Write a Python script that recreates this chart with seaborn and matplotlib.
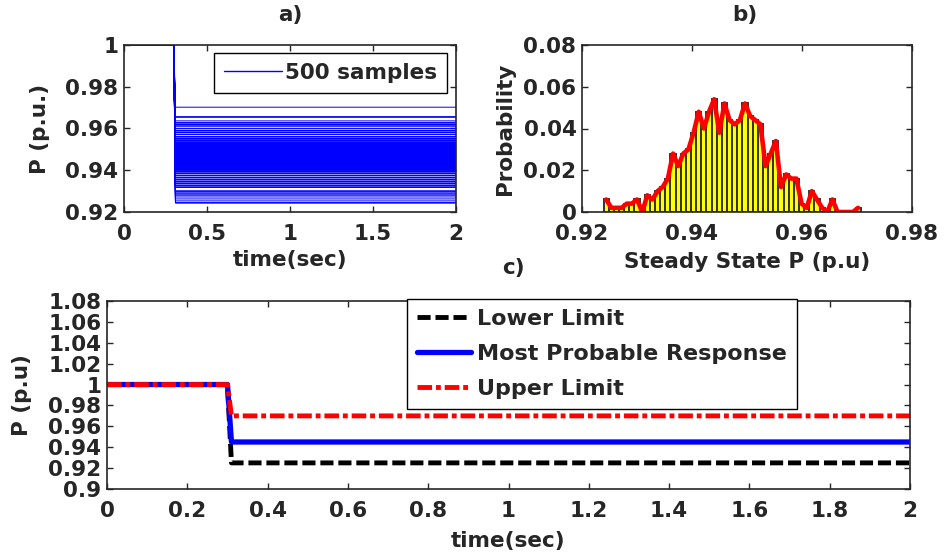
import numpy as np
import pandas as pd
import matplotlib
matplotlib.use("Agg")
import matplotlib.pyplot as plt
import seaborn as sns
from matplotlib.lines import Line2D

# ---------------- data ----------------
# histogram of steady-state P (probability per bin)
bin_lo, bin_hi = 0.9244, 0.9702
probs = [0.006, 0.002, 0.002, 0.002, 0.004, 0.004, 0.006, 0.000, 0.008, 0.006,
         0.010, 0.012, 0.016, 0.028, 0.022, 0.028, 0.030, 0.038, 0.048, 0.040,
         0.048, 0.054, 0.038, 0.052, 0.044, 0.042, 0.044, 0.052, 0.046, 0.044,
         0.042, 0.022, 0.028, 0.034, 0.012, 0.018, 0.016, 0.016, 0.004, 0.002,
         0.010, 0.006, 0.002, 0.000, 0.006, 0.000, 0.000, 0.000, 0.000, 0.002]
n_samples = 500
t_step = [0.0, 0.3, 0.31, 2.0]
lower_limit = 0.925
most_probable = 0.945
upper_limit = 0.97
pre_fault = 1.0

xticks_a = [0, 0.5, 1, 1.5, 2]
yticks_a = [0.92, 0.94, 0.96, 0.98, 1]
xticks_b = [0.92, 0.94, 0.96, 0.98]
yticks_b = [0, 0.02, 0.04, 0.06, 0.08]
xticks_c = [0, 0.2, 0.4, 0.6, 0.8, 1, 1.2, 1.4, 1.6, 1.8, 2]
yticks_c = [0.9, 0.92, 0.94, 0.96, 0.98, 1, 1.02, 1.04, 1.06, 1.08]

# ---------------- style ----------------
sns.set_style("ticks")
plt.rcParams['font.family'] = ['DejaVu Sans']
plt.rcParams['font.weight'] = 'bold'
plt.rcParams['axes.labelweight'] = 'bold'
plt.rcParams['axes.titleweight'] = 'bold'
plt.rcParams['xtick.direction'] = 'in'
plt.rcParams['ytick.direction'] = 'in'
plt.rcParams['xtick.top'] = True
plt.rcParams['ytick.right'] = True
plt.rcParams['axes.linewidth'] = 1.2

FS = 15.5
FS_LEG = 16

fig = plt.figure(figsize=(9.46, 5.54), dpi=100)
W, H = 946, 554
def add_ax(l, t, r, b):
    return fig.add_axes([l / W, 1 - b / H, (r - l) / W, (b - t) / H])

ax_a = add_ax(124, 45, 456, 212)
ax_b = add_ax(582, 45, 912, 212)
ax_c = add_ax(107, 301, 910, 489)

def style(ax):
    ax.tick_params(labelsize=FS, length=4, width=1)
    ax.tick_params(axis='x', pad=8.5)
    ax.tick_params(axis='y', pad=4)
    for lab in ax.get_xticklabels() + ax.get_yticklabels():
        lab.set_fontweight('bold')

def labels(ax, xl, yl, title, xly, ylx, tx, ty):
    ax.set_xlabel(xl, fontsize=FS, fontweight='bold')
    ax.set_ylabel(yl, fontsize=FS, fontweight='bold')
    ax.xaxis.set_label_coords(0.5, xly)
    ax.yaxis.set_label_coords(ylx, 0.5)
    ax.xaxis.label.set_va('center')
    ax.yaxis.label.set_va('center')
    ax.text(tx, ty, title, transform=ax.transAxes, ha='center', va='center',
            fontsize=FS, fontweight='bold')

# ---------------- panel a ----------------
centers = np.linspace(bin_lo, bin_hi, len(probs))
counts = np.round(np.array(probs) * n_samples).astype(int)
ss_values = np.repeat(centers, counts)
rows = []
for i, v in enumerate(ss_values):
    for t, p in zip(t_step, [pre_fault, pre_fault, v, v]):
        rows.append((i, t, p))
df_a = pd.DataFrame(rows, columns=['sample', 't', 'P'])
sns.lineplot(data=df_a, x='t', y='P', units='sample', estimator=None,
             color='#0000ff', lw=0.7, ax=ax_a, legend=False)
ax_a.set_xlim(0, 2)
ax_a.set_ylim(0.92, 1.0)
ax_a.set_xticks(xticks_a)
ax_a.set_xticklabels([f"{v:g}" for v in xticks_a])
ax_a.set_yticks(yticks_a)
ax_a.set_yticklabels([f"{v:g}" for v in yticks_a])
labels(ax_a, 'time(sec)', 'P (p.u.)', 'a)', -0.29, -0.253, 0.5, 1.18)
ax_a.legend(handles=[Line2D([0], [0], color='#0000ff', lw=1)], labels=['500 samples'],
            loc='upper right', bbox_to_anchor=(0.973, 0.952), fancybox=False,
            edgecolor='black', framealpha=1, prop={'size': FS, 'weight': 'bold'},
            handlelength=2.7, borderpad=0.46, handletextpad=0.15, borderaxespad=0)
style(ax_a)

# ---------------- panel b ----------------
bw = centers[1] - centers[0]
df_b = pd.DataFrame({'P': centers, 'prob': probs})
sns.histplot(data=df_b, x='P', weights='prob', bins=len(probs),
             binrange=(centers[0] - bw / 2, centers[-1] + bw / 2),
             color='#ffff00', edgecolor='#333333', linewidth=1.4, alpha=1,
             ax=ax_b)
sns.lineplot(data=df_b, x='P', y='prob', color='#ff0000', lw=3.3, ax=ax_b)
ax_b.set_xlim(0.92, 0.98)
ax_b.set_ylim(0, 0.08)
ax_b.set_xticks(xticks_b)
ax_b.set_xticklabels([f"{v:g}" for v in xticks_b])
ax_b.set_yticks(yticks_b)
ax_b.set_yticklabels([f"{v:g}" for v in yticks_b])
labels(ax_b, 'Steady State P (p.u)', 'Probability', 'b)', -0.30, -0.232, 0.494, 1.18)
style(ax_b)

# ---------------- panel c ----------------
series = {
    'Lower Limit': lower_limit,
    'Most Probable Response': most_probable,
    'Upper Limit': upper_limit,
}
rows = []
for name, v in series.items():
    for t, p in zip(t_step, [pre_fault, pre_fault, v, v]):
        rows.append((name, t, p))
df_c = pd.DataFrame(rows, columns=['series', 't', 'P'])
styles = {
    'Lower Limit': dict(color='black', ls=(0, (2.7, 1.0)), lw=3.5),
    'Most Probable Response': dict(color='#0000ff', ls='-', lw=3.8),
    'Upper Limit': dict(color='#ff0000', ls=(0, (3.0, 0.8, 1.0, 0.8)), lw=3.5),
}
handles = []
for name in series:
    sub = df_c[df_c['series'] == name]
    sns.lineplot(data=sub, x='t', y='P', ax=ax_c, legend=False, **styles[name])
    handles.append(Line2D([0], [0], **styles[name]))
ax_c.set_xlim(0, 2)
ax_c.set_ylim(0.9, 1.08)
ax_c.set_xticks(xticks_c)
ax_c.set_xticklabels([f"{v:g}" for v in xticks_c])
ax_c.set_yticks(yticks_c)
ax_c.set_yticklabels([f"{v:g}" for v in yticks_c])
labels(ax_c, 'time(sec)', 'P (p.u)', 'c)', -0.275, -0.106, 0.506, 1.176)
ax_c.legend(handles=handles, labels=list(series.keys()), loc='upper left',
            bbox_to_anchor=(0.3736, 1.0106), fancybox=False, edgecolor='black',
            framealpha=1, prop={'size': FS_LEG, 'weight': 'bold'},
            handlelength=2.45, borderpad=0.45, handletextpad=0.25, labelspacing=0.68,
            borderaxespad=0)
style(ax_c)

fig.savefig('out.png', dpi=100)
